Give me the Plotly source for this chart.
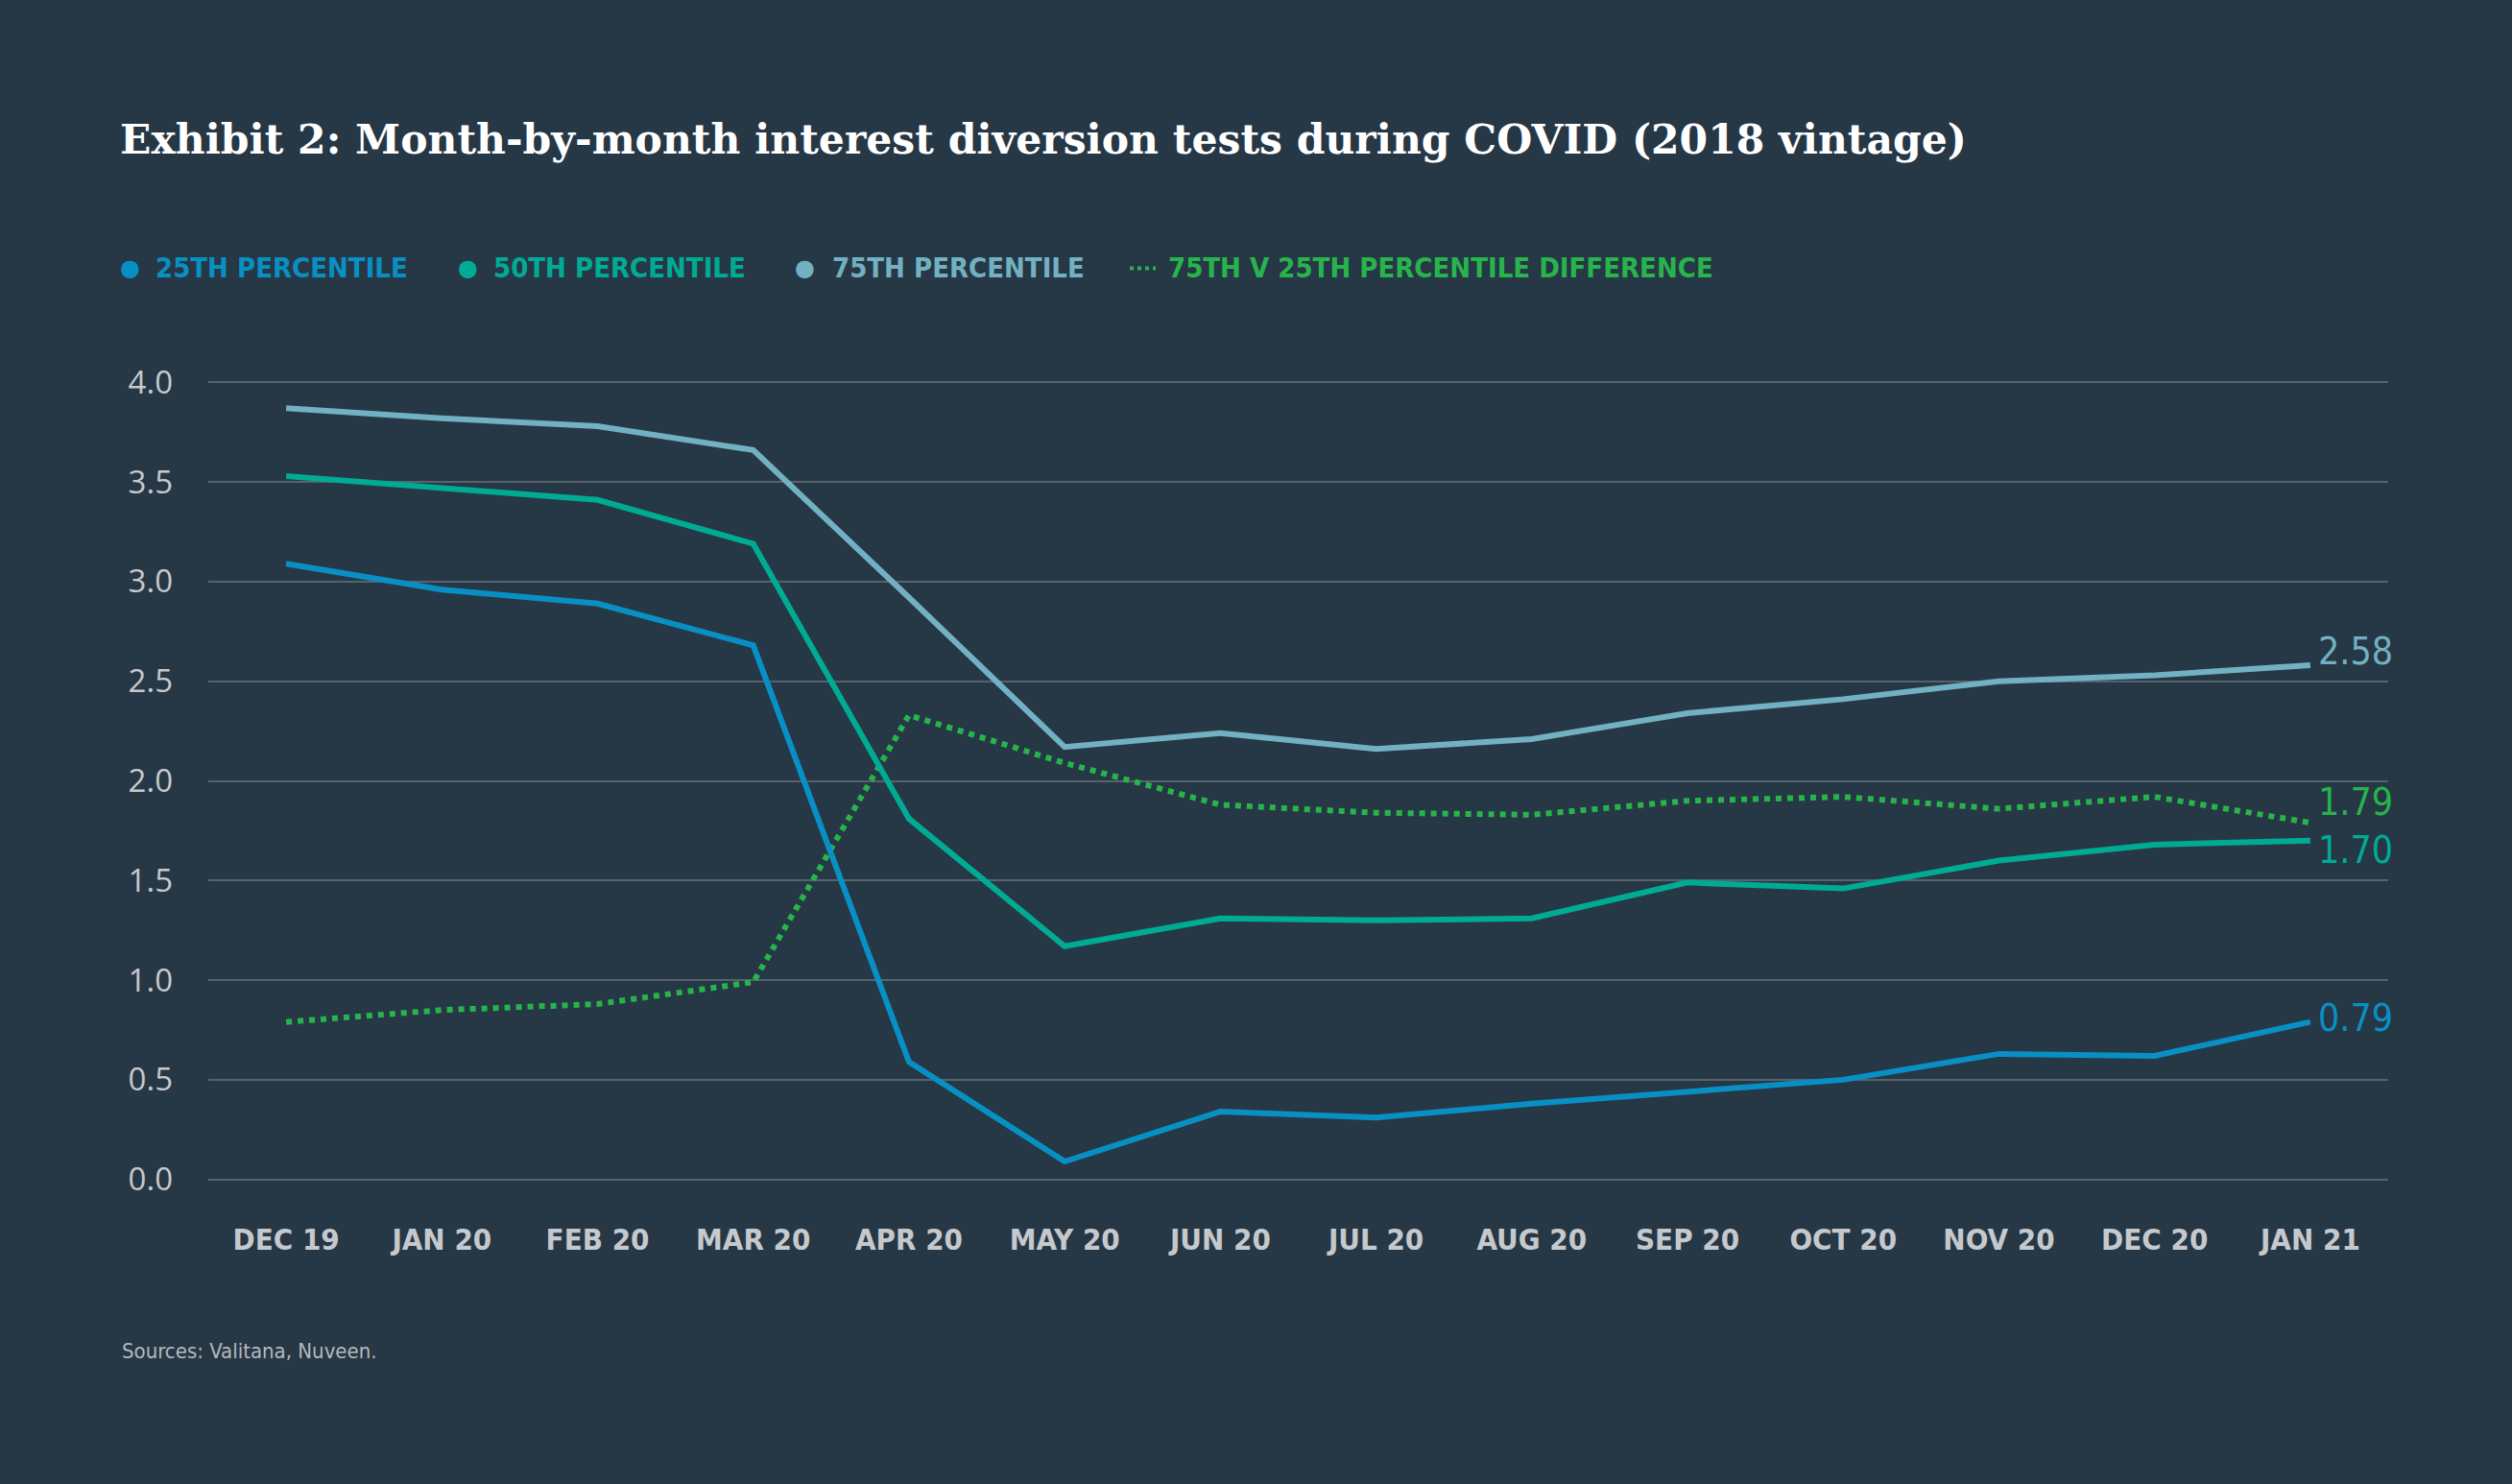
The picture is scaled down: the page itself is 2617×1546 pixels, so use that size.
import plotly.graph_objects as go

months = ["DEC 19", "JAN 20", "FEB 20", "MAR 20", "APR 20", "MAY 20", "JUN 20",
          "JUL 20", "AUG 20", "SEP 20", "OCT 20", "NOV 20", "DEC 20", "JAN 21"]
p25 = [3.09, 2.96, 2.89, 2.68, 0.59, 0.09, 0.34, 0.31, 0.38, 0.44, 0.50, 0.63, 0.62, 0.79]
p50 = [3.53, 3.47, 3.41, 3.19, 1.81, 1.17, 1.31, 1.30, 1.31, 1.49, 1.46, 1.60, 1.68, 1.70]
p75 = [3.87, 3.82, 3.78, 3.66, 2.92, 2.17, 2.24, 2.16, 2.21, 2.34, 2.41, 2.50, 2.53, 2.58]
diff = [0.79, 0.85, 0.88, 0.99, 2.33, 2.09, 1.88, 1.84, 1.83, 1.90, 1.92, 1.86, 1.92, 1.79]
yticks = [0.0, 0.5, 1.0, 1.5, 2.0, 2.5, 3.0, 3.5, 4.0]

W, H = 2617, 1546
BG = "#263746"
C25, C50, C75, CD = "#0890c4", "#00ab94", "#72b1c1", "#27b44b"
GRID = "#56636e"
TICK = "#c6c9cc"
COND = "Liberation Sans Narrow, DejaVu Sans Condensed, Arial Narrow, DejaVu Sans, sans-serif"

xs = list(range(len(months)))

fig = go.Figure()
fig.add_trace(go.Scatter(x=xs, y=p75, mode="lines", line=dict(color=C75, width=6), name="75TH PERCENTILE"))
fig.add_trace(go.Scatter(x=xs, y=diff, mode="lines", line=dict(color=CD, width=6, dash="dot"),
                         name="75TH V 25TH PERCENTILE DIFFERENCE"))
fig.add_trace(go.Scatter(x=xs, y=p50, mode="lines", line=dict(color=C50, width=6), name="50TH PERCENTILE"))
fig.add_trace(go.Scatter(x=xs, y=p25, mode="lines", line=dict(color=C25, width=6), name="25TH PERCENTILE"))

ann = []
# end labels
for vals, col, ys in [(p75, C75, 15), (diff, CD, 22), (p50, C50, -10), (p25, C25, 4)]:
    ann.append(dict(x=xs[-1], y=vals[-1], xref="x", yref="y", text=f"{vals[-1]:.2f}",
                    showarrow=False, xanchor="left", yanchor="middle", xshift=6, yshift=ys,
                    font=dict(family=COND, size=39, color=col)))

# legend (custom)
leg_y = 1 - 282 / H
items = [(135, 160, "25TH PERCENTILE", C25, "dot"),
         (487, 512, "50TH PERCENTILE", C50, "dot"),
         (838, 865, "75TH PERCENTILE", C75, "dot"),
         (1190, 1215, "75TH V 25TH PERCENTILE DIFFERENCE", CD, "line")]
shapes = []
for sx, tx, txt, col, kind in items:
    if kind == "dot":
        ann.append(dict(x=sx / W, y=leg_y, xref="paper", yref="paper", text="●", showarrow=False,
                        xanchor="center", yanchor="middle",
                        font=dict(family="DejaVu Sans", size=24, color=col)))
    else:
        shapes.append(dict(type="line", xref="paper", yref="paper", x0=1177 / W, x1=1204 / W,
                           y0=leg_y, y1=leg_y, line=dict(color=col, width=4, dash="dot")))
    ann.append(dict(x=tx / W, y=leg_y, xref="paper", yref="paper", text=f"<b>{txt}</b>", showarrow=False,
                    xanchor="left", yanchor="middle", font=dict(family=COND, size=29, color=col)))

# source
ann.append(dict(x=125 / W, y=1 - 1405 / H, xref="paper", yref="paper", text="Sources: Valitana, Nuveen.",
                showarrow=False, xanchor="left", yanchor="middle",
                font=dict(family=COND, size=22, color="#b4b9bd")))

# convert page-pixel positions to plot-area paper coords
L, R, T, B = 217, 2617 - 2488, 397, 1546 - 1230
pw, ph = W - L - R, H - T - B
for a in ann:
    if a["xref"] == "paper":
        px = a["x"] * W
        py = (1 - a["y"]) * H
        a["x"] = (px - L) / pw
        a["y"] = 1 - (py - T) / ph
for s in shapes:
    for k in ("x0", "x1"):
        s[k] = (s[k] * W - L) / pw
    for k in ("y0", "y1"):
        s[k] = 1 - ((1 - s[k]) * H - T) / ph

fig.update_layout(
    width=W, height=H,
    paper_bgcolor=BG, plot_bgcolor=BG,
    margin=dict(l=L, r=R, t=T - 2, b=B - 2, pad=0),
    showlegend=False,
    title=dict(text="<b>Exhibit 2: Month-by-month interest diversion tests during COVID (2018 vintage)</b>",
               xref="container", yref="container", x=125 / W, y=1 - 145 / H,
               xanchor="left", yanchor="middle",
               font=dict(family="DejaVu Serif, Liberation Serif, serif", size=42.5, color="#ffffff")),
    xaxis=dict(range=[-0.5, 13.5], tickvals=xs, ticktext=[f"<b>{m}</b>" for m in months],
               showgrid=False, zeroline=False, showline=False, ticks="",
               tickfont=dict(family=COND, size=31, color=TICK), ticklabelstandoff=38),
    yaxis=dict(range=[-0.016, 4.016], tickvals=yticks, ticktext=[f"{v:.1f}" for v in yticks],
               showgrid=True, gridcolor=GRID, gridwidth=2, zeroline=False, showline=False, ticks="",
               tickfont=dict(family="Open Sans, Noto Sans, sans-serif", size=33, color=TICK),
               ticklabelstandoff=36),
    annotations=ann, shapes=shapes,
)
fig.write_html("out.html", config={"displayModeBar": False},
               post_script="document.body.style.margin='0';document.body.style.overflow='hidden';"
                           "document.body.style.background='" + BG + "';")
